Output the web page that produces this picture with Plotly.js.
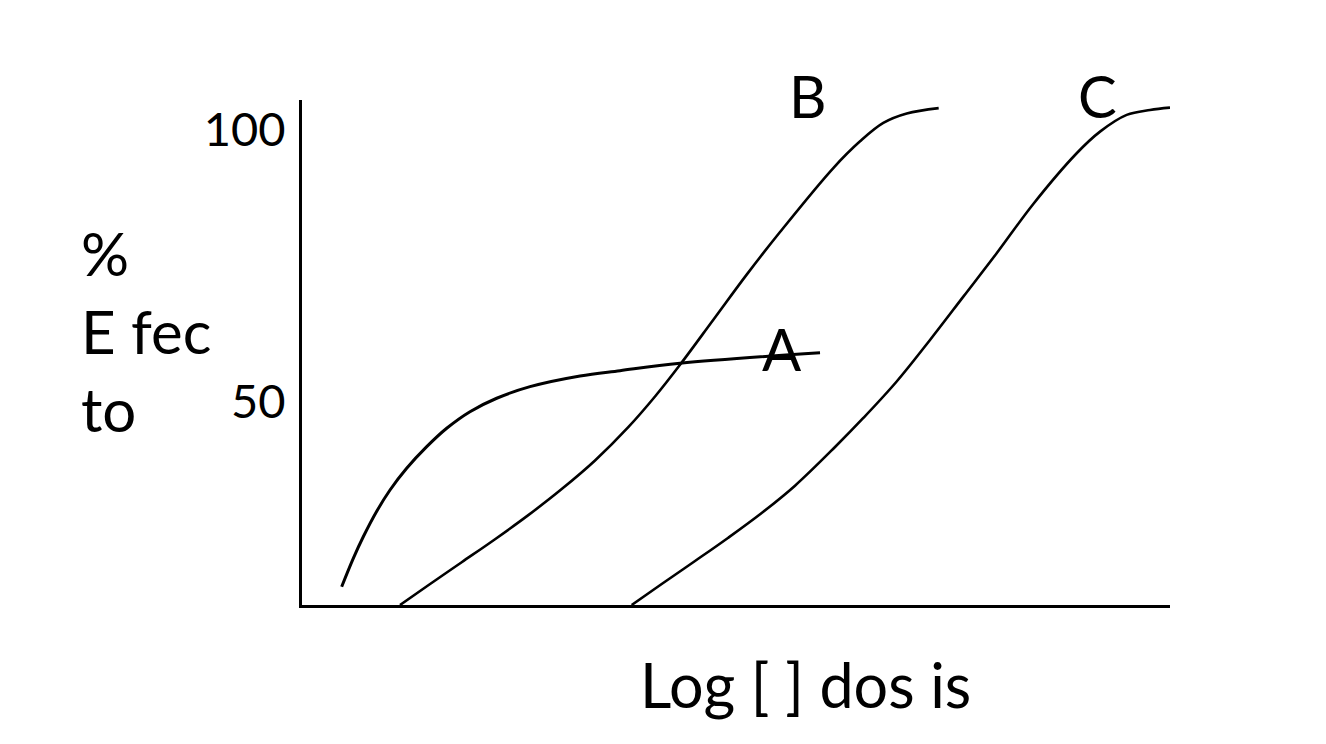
<!DOCTYPE html>
<html>
<head>
<meta charset="utf-8">
<script src="https://cdn.plot.ly/plotly-3.0.1.min.js"></script>
<style>
html,body{margin:0;padding:0;background:#fff;}
#chart{width:1326px;height:744px;}
</style>
</head>
<body>
<div id="chart"></div>
<script>
// Curve A (partial agonist)
const curveA_x = [0.457, 0.591, 0.706, 0.861, 1.014, 1.206, 1.437, 1.667, 1.935, 2.243, 2.627, 3.203, 3.664, 4.355, 5.968];
const curveA_y = [3.85, 9.83, 14.36, 19.73, 24.21, 28.78, 33.33, 37.2, 40.69, 43.52, 45.96, 48.21, 49.33, 50.88, 53.12];
// Curve B
const curveB_x = [1.129, 1.455, 1.840, 2.224, 2.607, 2.992, 3.376, 3.759, 4.067, 4.355, 4.739, 5.123, 5.507, 6.121, 6.429, 6.697, 6.967, 7.335];
const curveB_y = [0, 4.17, 9.01, 13.85, 18.91, 24.40, 30.42, 37.43, 43.89, 50.57, 60.04, 69.54, 78.51, 91.98, 97.6, 101.47, 103.45, 104.59];
// Curve C
const curveC_x = [3.798, 4.144, 4.528, 4.911, 5.296, 5.680, 6.141, 6.467, 6.851, 7.235, 7.619, 8.003, 8.425, 8.925, 9.194, 9.501, 9.770, 10.0];
const curveC_y = [0, 4.42, 9.26, 14.17, 19.37, 25.12, 33.26, 39.37, 47.05, 55.79, 64.91, 74.04, 84.42, 95.09, 99.64, 103.16, 104.21, 104.69];

const curveLabels = ["A", "B", "C"];
const curveLabelX = [5.53, 5.83, 9.17];
const curveLabelY = [53.9, 107.2, 107.2];

const yTickVals = [42.8, 100];
const yTickText = ["50", "100"];

const yTitleLines = ["%", "E fec", "to"];
const xTitle = "Log [ ] dos is";

const FONT = "Lato, 'Open Sans', sans-serif";
const Y_MAX = 106.3;

function lineTrace(x, y, w) {
  return {
    x: x, y: y, type: "scatter", mode: "lines",
    line: {color: "#000", width: w, shape: "spline", smoothing: 1},
    hoverinfo: "skip", showlegend: false, cliponaxis: false
  };
}

const traces = [
  lineTrace(curveA_x, curveA_y, 3),
  lineTrace(curveB_x, curveB_y, 2.6),
  lineTrace(curveC_x, curveC_y, 2.6)
];

const annotations = curveLabels.map((t, i) => ({
  x: curveLabelX[i], xref: "x",
  y: curveLabelY[i] / Y_MAX, yref: "paper",
  text: t, showarrow: false, xanchor: "center", yanchor: "middle",
  font: {family: FONT, size: 58, color: "#000"}
}));

annotations.push({
  xref: "paper", yref: "paper", x: -0.257, y: 0.772,
  xanchor: "left", yanchor: "top", align: "left",
  text: yTitleLines.join("<br>"), showarrow: false,
  font: {family: FONT, size: 60, color: "#000"}
});

annotations.push({
  xref: "paper", yref: "paper", x: 0.5806, y: -0.158,
  xanchor: "center", yanchor: "middle",
  text: xTitle, showarrow: false,
  font: {family: FONT, size: 61, color: "#000"}
});

const layout = {
  width: 1326, height: 744,
  margin: {l: 302, r: 156, t: 100, b: 139, pad: 0},
  paper_bgcolor: "#fff", plot_bgcolor: "#fff",
  showlegend: false,
  xaxis: {
    range: [0, 10], showline: true, linecolor: "#000", linewidth: 3,
    showgrid: false, zeroline: false, showticklabels: false, ticks: "",
    fixedrange: true
  },
  yaxis: {
    range: [0, Y_MAX], showline: true, linecolor: "#000", linewidth: 3,
    showgrid: false, zeroline: false, ticks: "",
    tickmode: "array", tickvals: yTickVals, ticktext: yTickText,
    ticklabelstandoff: 4,
    tickfont: {family: FONT, size: 47, color: "#000"},
    fixedrange: true
  },
  annotations: annotations
};

Plotly.newPlot("chart", traces, layout, {displayModeBar: false, staticPlot: true});
</script>
</body>
</html>
